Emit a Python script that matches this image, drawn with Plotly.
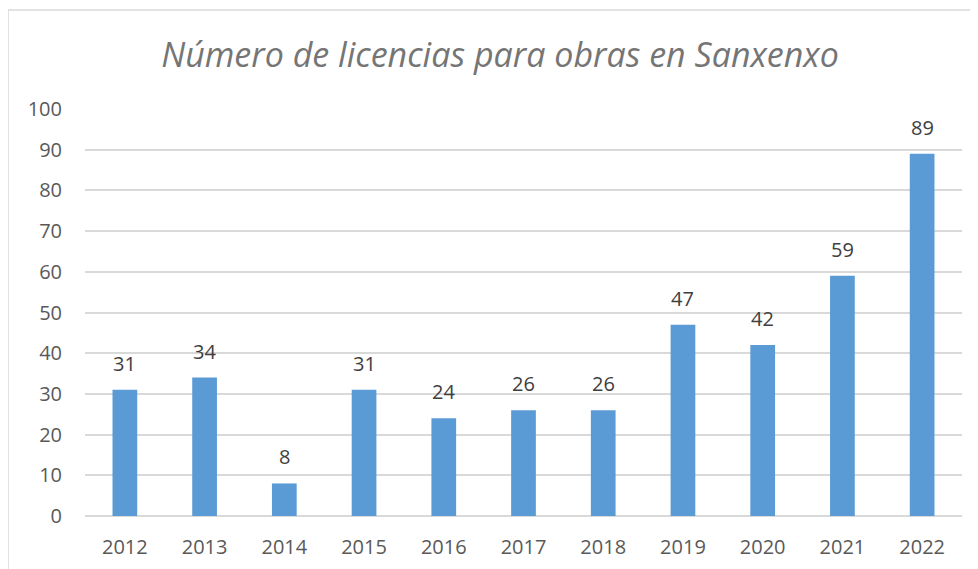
import plotly.graph_objects as go

years = ["2012", "2013", "2014", "2015", "2016", "2017", "2018", "2019", "2020", "2021", "2022"]
licencias = [31, 34, 8, 31, 24, 26, 26, 47, 42, 59, 89]
y_ticks = [0, 10, 20, 30, 40, 50, 60, 70, 80, 90, 100]
title_text = "Número de licencias para obras en Sanxenxo"

W, H = 978, 569
OFF = 8  # page body margin
ML, MR, MT, MB = 77, 24, 101, 61
pw, ph = W - ML - MR, H - MT - MB

fig = go.Figure(go.Bar(
    x=years, y=licencias,
    marker=dict(color="#5B9BD5", line=dict(width=0)),
    width=0.31,
    hoverinfo="x+y",
))

for i, v in enumerate(licencias):
    fig.add_annotation(x=i, y=v, text=str(v), showarrow=False, yanchor="bottom",
                       yshift=11, font=dict(family="Open Sans", size=20, color="#404040"))

fig.update_layout(
    width=W, height=H,
    margin=dict(l=ML, r=MR, t=MT, b=MB),
    paper_bgcolor="white", plot_bgcolor="white",
    font=dict(family="Open Sans", color="#595959", size=20),
    title=dict(text="<i>" + title_text + "</i>", x=(500 - OFF) / W, xanchor="center",
               y=1 - (55 - OFF) / H, yanchor="middle", yref="container",
               font=dict(family="Open Sans", size=34, color="#757575")),
    xaxis=dict(type="category", categoryorder="array", categoryarray=years,
               range=[-0.5, len(years) - 0.5], autorange=False,
               showgrid=False, showline=False, ticks="", tickfont=dict(size=20, color="#595959"),
               ticklabelstandoff=17),
    yaxis=dict(range=[0, 100], tickvals=y_ticks, showgrid=True, gridcolor="#D9D9D9",
               gridwidth=1.5, zeroline=True, zerolinecolor="#D9D9D9", zerolinewidth=1.5,
               showline=False, ticks="", tickfont=dict(size=20, color="#595959"),
               ticklabelstandoff=22),
    showlegend=False,
    shapes=[dict(type="rect", xref="paper", yref="paper",
                 x0=(8 - OFF - ML) / pw, x1=(W + 20 - ML) / pw,
                 y0=(H - MB - (H + 20)) / ph, y1=(H - MB - (10 - OFF)) / ph,
                 line=dict(color="#D9D9D9", width=1.5), fillcolor="rgba(0,0,0,0)", layer="below")],
)

fig.write_html("out.html")
